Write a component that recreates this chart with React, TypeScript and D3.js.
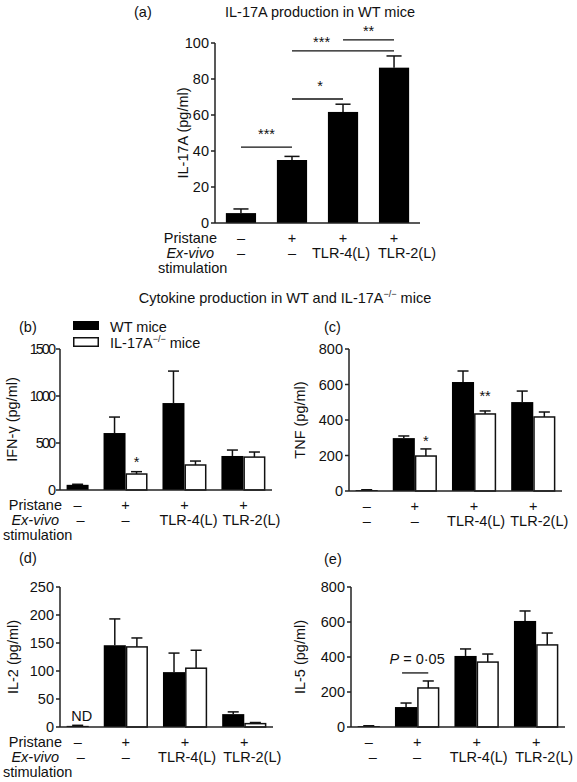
import React from "react";
import * as d3 from "d3";

const FONT = "'Liberation Sans', Arial, Helvetica, sans-serif";

// ---------- data ----------
const groups = ["ctrl", "pristane", "tlr4", "tlr2"];
const pristaneRow = ["–", "+", "+", "+"];
const exvivoRow = ["–", "–", "TLR-4(L)", "TLR-2(L)"];

const il17aMean = [5.5, 35, 61.7, 86.3];
const il17aErr = [2.3, 2, 4.3, 6.5];
const il17aTicks = [0, 20, 40, 60, 80, 100];

const ifngWT = [55, 606, 925, 362];
const ifngWTErr = [6, 170, 340, 63];
const ifngKO: (number | null)[] = [null, 170, 266, 350];
const ifngKOErr: (number | null)[] = [null, 25, 42, 54];
const ifngTicks = [0, 500, 1000, 1500];

const tnfWT = [5, 298, 614, 501];
const tnfWTErr = [2, 12, 62, 62];
const tnfKO: (number | null)[] = [null, 197, 434, 417];
const tnfKOErr: (number | null)[] = [null, 40, 17, 28];
const tnfTicks = [0, 200, 400, 600, 800];

const il2WT = [2, 146, 98, 23];
const il2WTErr = [1, 47, 34, 4];
const il2KO: (number | null)[] = [null, 143, 105, 6];
const il2KOErr: (number | null)[] = [null, 16, 32, 2];
const il2Ticks = [0, 50, 100, 150, 200, 250];

const il5WT = [5, 114, 406, 606];
const il5WTErr = [2, 23, 40, 57];
const il5KO: (number | null)[] = [null, 223, 371, 469];
const il5KOErr: (number | null)[] = [null, 40, 46, 68];
const il5Ticks = [0, 200, 400, 600, 800];

// significance brackets for panel (a): [fromGroup, toGroup, lineValue, label, labelValue, labelFrac]
const il17aSig: [number, number, number, string, number, number][] = [
  [0, 1, 42.2, "***", 44.4, 0.5],
  [1, 2, 68.9, "*", 71.1, 0.55],
  [1, 3, 95.6, "***", 95.6, 0.29],
  [2, 3, 101.7, "**", 101.7, 0.5],
];

// star annotations above knockout bars: [group, label, baselineValue]
const ifngStars: [number, string, number][] = [[1, "*", 245]];
const tnfStars: [number, string, number][] = [[1, "*", 253], [2, "**", 507]];

type Cfg = {
  letter: string;
  letterX: number;
  letterY: number;
  x0: number;
  x1: number;
  y0: number;
  yTop: number;
  ticks: number[];
  wt: number[];
  wtErr: number[];
  ko?: (number | null)[];
  koErr?: (number | null)[];
  edge: number;
  gap: number;
  yLabel: React.ReactNode;
  yLabelX: number;
  rowTitles: boolean;
  labelShift: number[];
  tickLetterSpacing?: number;
  stars?: [number, string, number][];
};

function Panel({ cfg, children }: { cfg: Cfg; children?: (h: any) => React.ReactNode }) {
  const yMax = cfg.ticks[cfg.ticks.length - 1];
  const yS = d3.scaleLinear().domain([0, yMax]).range([cfg.y0, cfg.yTop]);

  type Bar = { v: number; e: number; fill: string; u0: number; u1: number; g: number; s: number };
  const bars: Bar[] = [];
  const centers: number[] = [];
  let u = cfg.edge;
  groups.forEach((_, i) => {
    const start = u;
    const series: { v: number; e: number; fill: string }[] = [{ v: cfg.wt[i], e: cfg.wtErr[i], fill: "#000" }];
    if (cfg.ko && cfg.ko[i] != null) series.push({ v: cfg.ko[i] as number, e: (cfg.koErr as any)[i] as number, fill: "#fff" });
    series.forEach((s, j) => {
      bars.push({ ...s, u0: u, u1: u + 1, g: i, s: j });
      u += 1;
    });
    centers.push((start + u) / 2);
    u += cfg.gap;
  });
  const total = u - cfg.gap + cfg.edge;
  const xS = d3.scaleLinear().domain([0, total]).range([cfg.x0, cfg.x1]);
  const barCenter = (g: number, s: number) => {
    const b = bars.find((bb) => bb.g === g && bb.s === s)!;
    return xS((b.u0 + b.u1) / 2);
  };

  const row1 = cfg.y0 + 20;
  const row2 = cfg.y0 + 35;
  const row3 = cfg.y0 + 50;
  const fs = 14.5;

  return (
    <g fontFamily={FONT} fontSize={fs} fill="#111">
      <text x={cfg.letterX} y={cfg.letterY}>{cfg.letter}</text>
      {/* bars */}
      {bars.map((b, k) => {
        const x = xS(b.u0);
        const w = xS(b.u1) - xS(b.u0);
        const cx = x + w / 2;
        const top = yS(b.v);
        const et = yS(b.v + b.e);
        const cw = w * 0.5;
        return (
          <g key={k}>
            <line x1={cx} x2={cx} y1={top} y2={et} stroke="#111" strokeWidth={1.5} />
            <line x1={cx - cw / 2} x2={cx + cw / 2} y1={et} y2={et} stroke="#111" strokeWidth={1.5} />
            <rect
              x={b.fill === "#000" ? x : x + 0.75}
              y={top}
              width={b.fill === "#000" ? w : w - 1.5}
              height={cfg.y0 - top}
              fill={b.fill}
              stroke="#111"
              strokeWidth={b.fill === "#000" ? 0 : 1.5}
            />
          </g>
        );
      })}
      {/* axes */}
      <line x1={cfg.x0} x2={cfg.x0} y1={cfg.y0} y2={cfg.yTop} stroke="#222" strokeWidth={1.5} />
      <line x1={cfg.x0} x2={cfg.x1} y1={cfg.y0} y2={cfg.y0} stroke="#222" strokeWidth={1.5} />
      {cfg.ticks.map((t) => (
        <g key={t}>
          <line x1={cfg.x0 - 4} x2={cfg.x0} y1={yS(t)} y2={yS(t)} stroke="#222" strokeWidth={1.5} />
          <text
            x={cfg.x0 - 6}
            y={yS(t)}
            dy="0.35em"
            textAnchor="end"
            letterSpacing={cfg.tickLetterSpacing ?? 0}
          >
            {t}
          </text>
        </g>
      ))}
      <text
        transform={`translate(${cfg.yLabelX},${(cfg.y0 + cfg.yTop) / 2}) rotate(-90)`}
        textAnchor="middle"
      >
        {cfg.yLabel}
      </text>
      {/* condition rows */}
      {groups.map((_, i) => (
        <g key={i}>
          <text x={xS(centers[i])} y={row1} textAnchor="middle">{pristaneRow[i]}</text>
          <text x={xS(centers[i]) + cfg.labelShift[i]} y={row2} textAnchor="middle">{exvivoRow[i]}</text>
        </g>
      ))}
      {cfg.rowTitles && (
        <g>
          <text x={cfg.x0 + 2} y={row1} textAnchor="end">Pristane</text>
          <text x={cfg.x0 - 1} y={row2} textAnchor="end" fontStyle="italic">Ex-vivo</text>
          <text x={cfg.x0 - 57} y={row3}>stimulation</text>
        </g>
      )}
      {cfg.stars &&
        cfg.stars.map(([g, lab, v], k) => (
          <text key={k} x={barCenter(g, 1)} y={yS(v)} textAnchor="middle">{lab}</text>
        ))}
      {children && children({ xS, yS, centers, barCenter })}
    </g>
  );
}

export default function App() {
  const sup = (
    <tspan>
      IL-17A<tspan dy={-6} fontSize={9}>−/−</tspan>
      <tspan dy={6}> mice</tspan>
    </tspan>
  );

  const cfgA: Cfg = {
    letter: "(a)", letterX: 134, letterY: 17,
    x0: 215, x1: 420, y0: 223, yTop: 43, ticks: il17aTicks,
    wt: il17aMean, wtErr: il17aErr,
    edge: 0.36, gap: 0.69,
    yLabel: "IL-17A (pg/ml)", yLabelX: 188,
    rowTitles: true, labelShift: [0, 0, -2, 13],
  };
  const cfgB: Cfg = {
    letter: "(b)", letterX: 19, letterY: 332,
    x0: 60, x1: 272, y0: 490, yTop: 349, ticks: ifngTicks,
    wt: ifngWT, wtErr: ifngWTErr, ko: ifngKO, koErr: ifngKOErr,
    edge: 0.3, gap: 0.68,
    yLabel: "IFN-γ (pg/ml)", yLabelX: 17,
    rowTitles: true, labelShift: [3, 0, 4, 8], tickLetterSpacing: -2,
    stars: ifngStars,
  };
  const cfgC: Cfg = {
    letter: "(c)", letterX: 324, letterY: 332,
    x0: 349, x1: 562, y0: 491, yTop: 349, ticks: tnfTicks,
    wt: tnfWT, wtErr: tnfWTErr, ko: tnfKO, koErr: tnfKOErr,
    edge: 0.3, gap: 0.68,
    yLabel: "TNF (pg/ml)", yLabelX: 305,
    rowTitles: false, labelShift: [0, 0, 2, 6],
    stars: tnfStars,
  };
  const cfgD: Cfg = {
    letter: "(d)", letterX: 19, letterY: 563,
    x0: 60, x1: 273, y0: 727, yTop: 587, ticks: il2Ticks,
    wt: il2WT, wtErr: il2WTErr, ko: il2KO, koErr: il2KOErr,
    edge: 0.3, gap: 0.68,
    yLabel: "IL-2 (pg/ml)", yLabelX: 18,
    rowTitles: true, labelShift: [3, 0, 2, 8],
  };
  const cfgE: Cfg = {
    letter: "(e)", letterX: 324, letterY: 564,
    x0: 351, x1: 565, y0: 727, yTop: 587, ticks: il5Ticks,
    wt: il5WT, wtErr: il5WTErr, ko: il5KO, koErr: il5KOErr,
    edge: 0.3, gap: 0.68,
    yLabel: "IL-5 (pg/ml)", yLabelX: 305,
    rowTitles: false, labelShift: [4, 0, 2, 8],
  };

  return (
    <div style={{ position: "absolute", left: 0, top: 0 }}>
      <svg width={577} height={782} style={{ display: "block", background: "#fff" }}>
        <text x={320} y={17} textAnchor="middle" fontFamily={FONT} fontSize={14.5} fill="#111">
          IL-17A production in WT mice
        </text>
        <Panel cfg={cfgA}>
          {({ xS, yS, centers }) =>
            il17aSig.map(([a, b, v, lab, lv, frac], k) => {
              const xa = xS(centers[a]);
              const xb = xS(centers[b]);
              return (
                <g key={k}>
                  <line x1={xa} x2={xb} y1={yS(v)} y2={yS(v)} stroke="#111" strokeWidth={1.3} />
                  <text x={xa + (xb - xa) * frac} y={yS(lv) - 4} textAnchor="middle">{lab}</text>
                </g>
              );
            })
          }
        </Panel>

        <text x={285} y={303} textAnchor="middle" fontFamily={FONT} fontSize={14.5} fill="#111">
          Cytokine production in WT and {sup}
        </text>

        {/* legend */}
        <g fontFamily={FONT} fontSize={14.5} fill="#111">
          <rect x={73} y={321} width={26} height={9} fill="#000" />
          <text x={110} y={332}>WT mice</text>
          <rect x={73.75} y={337.75} width={24.5} height={8.5} fill="#fff" stroke="#111" strokeWidth={1.5} />
          <text x={110} y={348}>{sup}</text>
        </g>

        <Panel cfg={cfgB} />
        <Panel cfg={cfgC} />
        <Panel cfg={cfgD}>
          {({ xS, yS, centers }) => (
            <text x={xS(centers[0]) + 4} y={yS(0) - 6} textAnchor="middle">ND</text>
          )}
        </Panel>
        <Panel cfg={cfgE}>
          {({ yS, barCenter }) => {
            const xa = barCenter(1, 0);
            const xb = barCenter(1, 1);
            return (
              <g>
                <line x1={xa - 4} x2={xb} y1={yS(309)} y2={yS(309)} stroke="#111" strokeWidth={1.3} />
                <text x={(xa + xb) / 2} y={yS(360)} textAnchor="middle">
                  <tspan fontStyle="italic">P</tspan> = 0·05
                </text>
              </g>
            );
          }}
        </Panel>
      </svg>
    </div>
  );
}
